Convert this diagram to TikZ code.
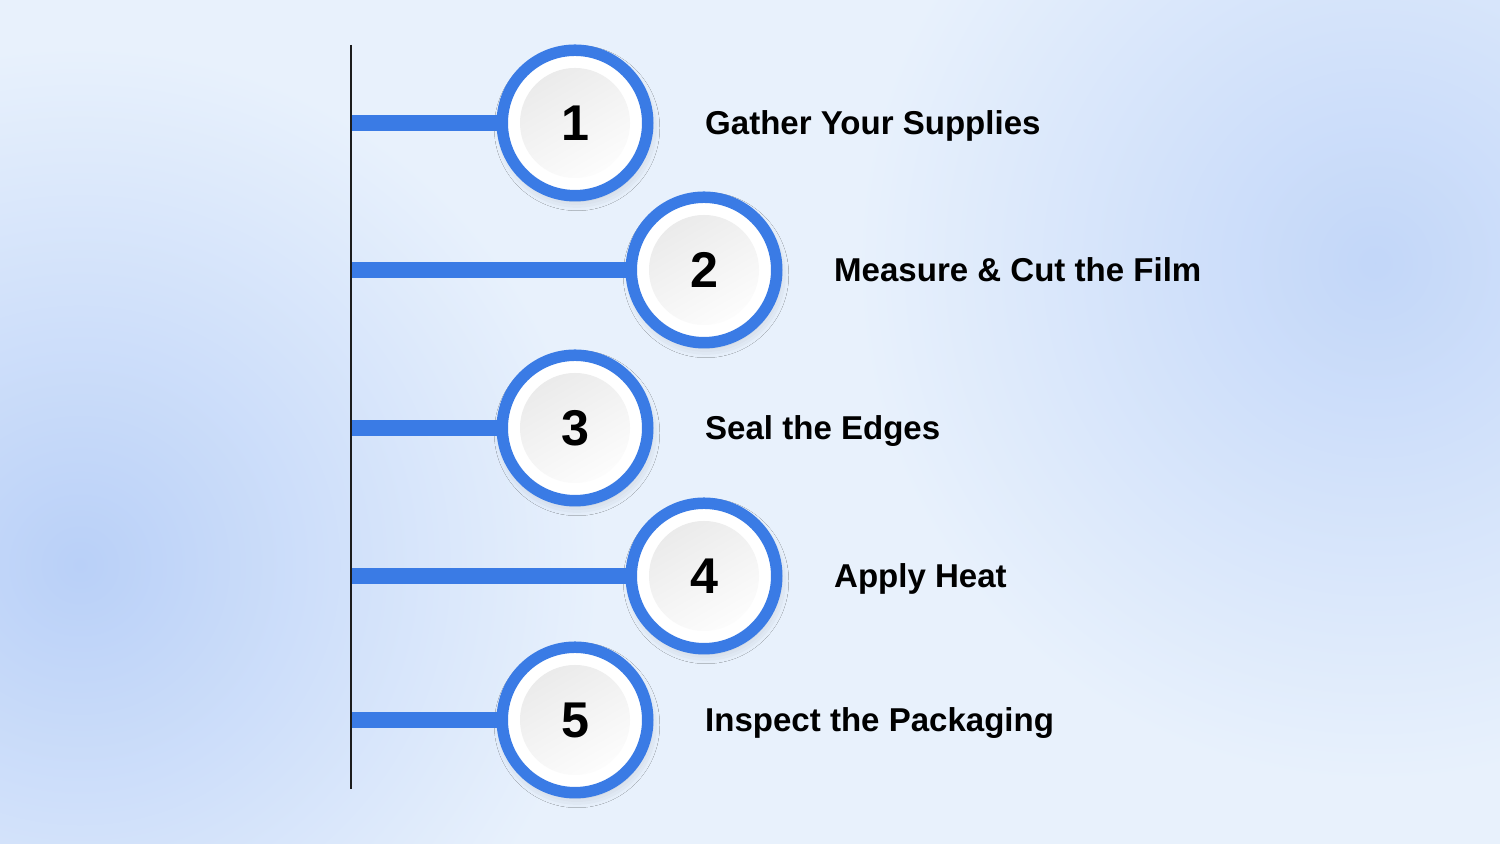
\documentclass[tikz,border=0pt]{standalone}
\usepackage{fontspec}
\setmainfont{Liberation Sans}
\usetikzlibrary{positioning,shadows.blur}
\definecolor{bgblue}{HTML}{E8F1FC}
\definecolor{blobblue}{HTML}{B9D0F8}
\definecolor{ringblue}{HTML}{3A7BE5}
\definecolor{spinegray}{HTML}{1C1C1C}
\begin{document}
\begin{tikzpicture}[font=\bfseries,
          ring/.style={circle, draw=ringblue, line width=0.115cm, fill=white, minimum size=1.455cm, inner sep=0pt,
            font=\fontsize{14.3}{16}\selectfont\bfseries,
            blur shadow={shadow xshift=0.02cm, shadow yshift=-0.05cm, shadow blur radius=0.1cm, shadow opacity=18},
            path picture={\shade[top color=black!9, bottom color=white, shading angle=30]
              (path picture bounding box.center) circle (0.55cm);}},
          lbl/.style={anchor=west, inner sep=0pt, text height=0.235cm, text depth=0pt,
            font=\fontsize{9.4}{11}\selectfont\bfseries},
          bar/.style={draw=ringblue, line width=0.16cm},
          spine/.style={draw=spinegray, line width=0.022cm}]
        \useasboundingbox (0,0) rectangle (15,8.44);
        \begin{scope}
          \clip (0,0) rectangle (15,8.44);
          \fill[bgblue] (0,0) rectangle (15,8.44);
          \shade[inner color=blobblue, outer color=bgblue] (0.8,2.79) circle (5.2);
          \shade[inner color=blobblue!80!bgblue, outer color=bgblue] (13.75,5.81) circle (5.2);
        \end{scope}
        \coordinate (top) at (3.51,7.99);
        \coordinate (bot) at (3.51,0.55);
        \node[ring] (c1) at (5.75,7.21) {1};
        \node[ring] (c2) at (7.04,5.74) {2};
        \node[ring] (c3) at (5.75,4.16) {3};
        \node[ring] (c4) at (7.04,2.68) {4};
        \node[ring] (c5) at (5.75,1.24) {5};
        \node[lbl, right=0.51cm of c1] (t1) {Gather Your Supplies};
        \node[lbl, right=0.51cm of c2] (t2) {Measure \& Cut the Film};
        \node[lbl, right=0.51cm of c3] (t3) {Seal the Edges};
        \node[lbl, right=0.51cm of c4] (t4) {Apply Heat};
        \node[lbl, right=0.51cm of c5] (t5) {Inspect the Packaging};
        \draw[bar] (top |- c1) -- (c1.west);
        \draw[bar] (top |- c2) -- (c2.west);
        \draw[bar] (top |- c3) -- (c3.west);
        \draw[bar] (top |- c4) -- (c4.west);
        \draw[bar] (top |- c5) -- (c5.west);
        \draw[spine] (top) -- (bot);
      \end{tikzpicture}
\end{document}
